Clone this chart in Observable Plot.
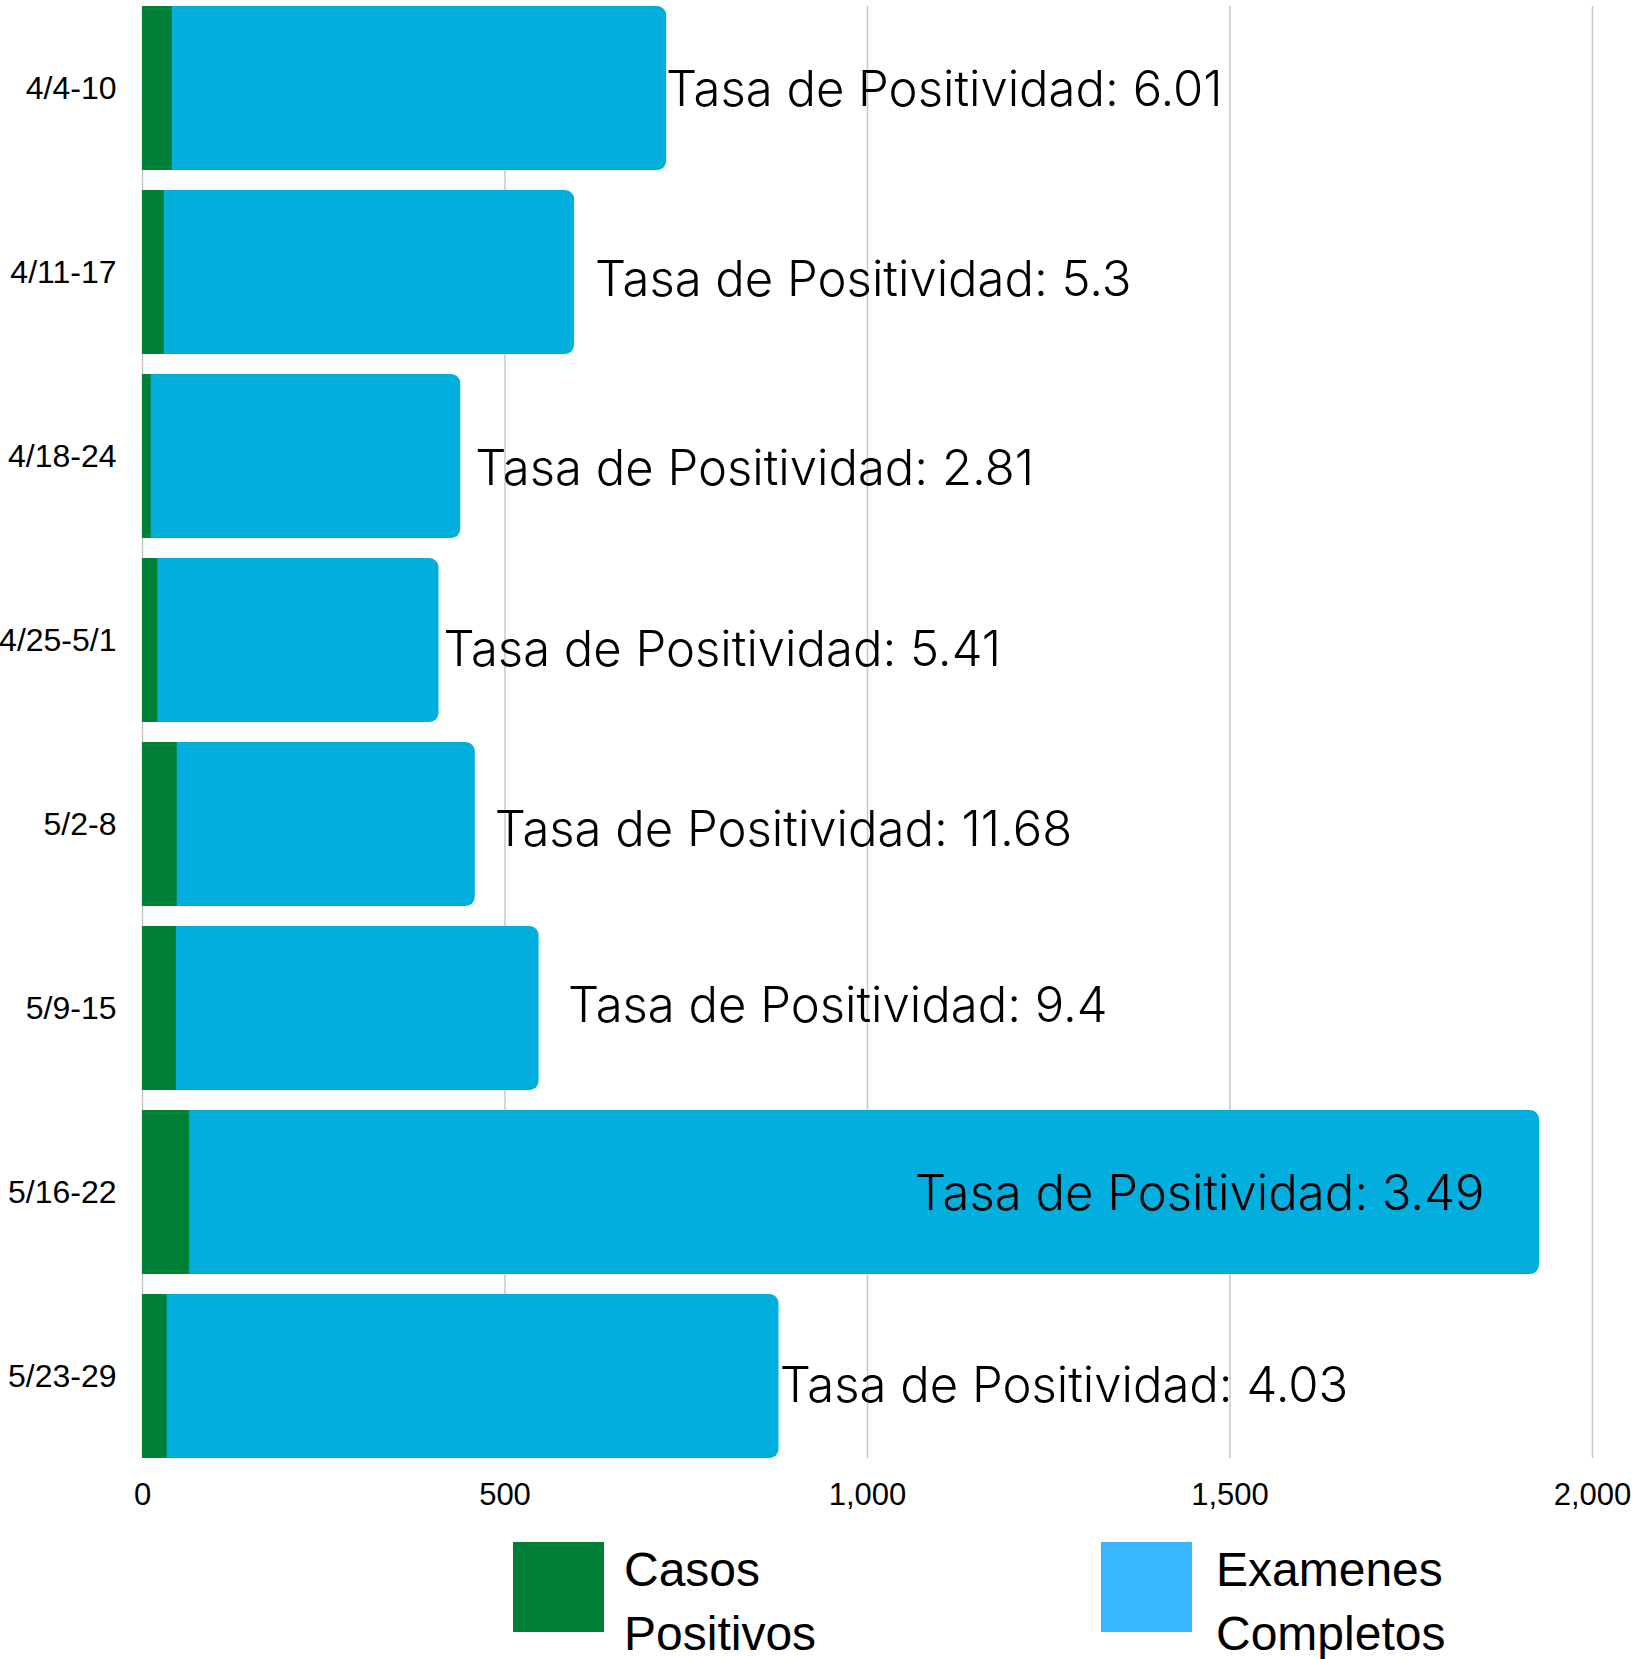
<!DOCTYPE html>
<html>
<head>
<meta charset="utf-8">
<script src="https://cdn.jsdelivr.net/npm/d3@7"></script>
<script src="https://cdn.jsdelivr.net/npm/@observablehq/plot@0.6"></script>
<style>
  html, body { margin: 0; padding: 0; background: #fff; }
  #wrap { position: relative; width: 1632px; height: 1659px; overflow: hidden; }
  .sw { position: absolute; width: 91px; height: 90px; }
  .lt { position: absolute; font-family: "Liberation Sans", Arial, sans-serif; font-size: 48px; line-height: 64px; color: #000; }
</style>
</head>
<body>
<div id="wrap">
  <div id="chart"></div>
  <div class="sw" style="left:513px; top:1542px; background:#008037;"></div>
  <div class="lt" style="left:624px; top:1538px;">Casos<br>Positivos</div>
  <div class="sw" style="left:1101px; top:1542px; background:#38B6FF;"></div>
  <div class="lt" style="left:1216px; top:1538px;">Examenes<br>Completos</div>
</div>
<script>
// ---- data ----
const weeks = ["4/4-10", "4/11-17", "4/18-24", "4/25-5/1", "5/2-8", "5/9-15", "5/16-22", "5/23-29"];
const casosPositivos = [41, 30, 12, 21, 48, 47, 65, 34];
const examenesCompletos = [682, 566, 427, 388, 411, 500, 1862, 844];
const tasaPositividad = [6.01, 5.3, 2.81, 5.41, 11.68, 9.4, 3.49, 4.03];
const xTicks = [0, 500, 1000, 1500, 2000];

// annotation placement (in data units along x)
const labelAt = [722, 624, 459, 415, 486, 587, 1851, 879];
const labelAnchor = ["start", "start", "start", "start", "start", "start", "end", "start"];
const labelNudge = [2, 8, 13, 10, 6, -2, 2, 10];

const rows = weeks.map((w, i) => ({
  week: w,
  casos: casosPositivos[i],
  examenes: examenesCompletos[i],
  total: casosPositivos[i] + examenesCompletos[i],
  tasa: tasaPositividad[i],
  lx: labelAt[i]
}));

const labelMarks = rows.map((r, i) => Plot.text([r], {
  x: "lx", y: "week",
  text: d => `Tasa de Positividad: ${d.tasa}`,
  textAnchor: labelAnchor[i],
  dy: labelNudge[i],
  fontSize: 49,
  fontWeight: 300,
  fontFamily: "Inter, 'Noto Sans', sans-serif",
  fill: "#000"
}));

const chart = Plot.plot({
  width: 1632,
  height: 1520,
  marginLeft: 142,
  marginRight: 40,
  marginTop: 6,
  marginBottom: 62,
  style: { fontFamily: "'Liberation Sans', Arial, sans-serif", fontSize: "32px", color: "#000", background: "#fff" },
  x: { domain: [0, 2000], ticks: xTicks },
  y: { domain: weeks, paddingInner: 0.109, paddingOuter: 0 },
  marks: [
    Plot.gridX(xTicks, { stroke: "#c8c8c8", strokeOpacity: 1, strokeWidth: 1.5 }),
    Plot.barX(rows, { x1: 0, x2: "total", y: "week", fill: "#02AEDD", rx: 9 }),
    Plot.barX(rows, { x1: 0, x2: "casos", y: "week", fill: "#008037" }),
    Plot.axisX(xTicks, { tickSize: 0, tickPadding: 24, tickFormat: d3.format(","), fontSize: 31, label: null }),
    Plot.axisY({ tickSize: 0, tickPadding: 26, fontSize: 32, label: null }),
    ...labelMarks
  ]
});
document.getElementById("chart").appendChild(chart);
</script>
</body>
</html>
